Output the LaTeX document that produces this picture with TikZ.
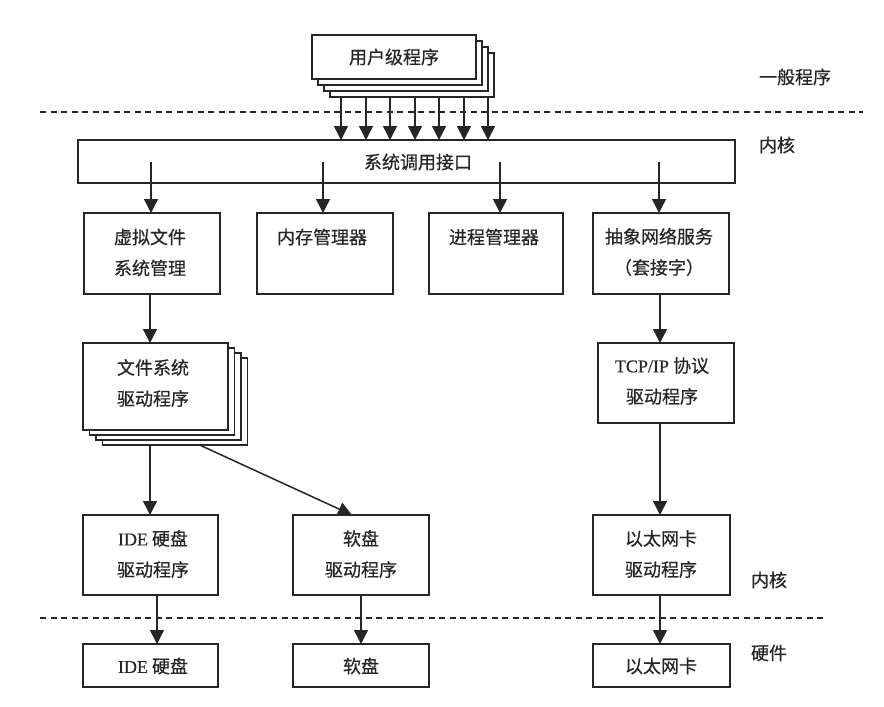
\documentclass[tikz,border=0pt]{standalone}
\usepackage{fontspec}
\newfontfamily\cjk[FakeBold=0.5]{Noto Sans CJK SC}
\setmainfont[FakeBold=0.5]{Liberation Serif}
\usetikzlibrary{arrows.meta,calc}
\tikzset{
  box/.style={draw=black!85, line width=1.4pt, fill=white, inner sep=0pt, outer sep=0pt},
  txt/.style={font=\cjk\fontsize{18}{31}\selectfont, align=center, inner sep=0pt, text=black!85},
  arr/.style={draw=black!85, line width=1.5pt, -{Triangle[width=14pt,length=14pt]}},
  sep/.style={draw=black!85, line width=1.1pt, dash pattern=on 6pt off 4.5pt},
}
\begin{document}
\begin{tikzpicture}[x=1pt,y=-1pt]
\useasboundingbox (0,0) rectangle (884,707);
% user programs stack
\foreach \k in {3,2,1,0}{
  \node[box, minimum width=164pt, minimum height=44pt] (u\k) at (394+6*\k, 57+6*\k) {};
}
\node[txt] (ut) at (u0.center) {用户级程序};
% separators
\draw[sep] (40,112) -- (863,112);
\draw[sep] (40,618) -- (827,618);
% side labels
\node[txt] (lg) at (795,77) {一般程序};
\node[txt] (lk1) at (777,145) {内核};
\node[txt] (lk2) at (769,580) {内核};
\node[txt] (lh) at (769,653) {硬件};
% system call interface
\node[box, minimum width=657pt, minimum height=43pt] (sys) at (406.5,161.5) {};
\node[txt] (syst) at (418,162) {系统调用接口};
\foreach \d in {11,36,60,85,109,134,158}{
  \draw[arr] ($(u3.south west)+(\d,0)$) coordinate (s\d) -- (s\d |- sys.north);
}
% second row
\node[box, minimum width=136pt, minimum height=81pt] (vfs) at (152,253.5) {};
\node[txt] (vfst) at (150,252.5) {虚拟文件\\系统管理};
\node[box, minimum width=136pt, minimum height=81pt] (mem) at (325,253.5) {};
\node[txt] (memt) at (322,237) {内存管理器};
\node[box, minimum width=134pt, minimum height=81pt] (proc) at (496,253.5) {};
\node[txt] (proct) at (494,237) {进程管理器};
\node[box, minimum width=136pt, minimum height=81pt] (net) at (661,253.5) {};
\node[txt] (nett) at (659,252) {抽象网络服务\\（套接字）};
\draw[arr] ($(vfs.north |- sys.center)+(-1,0)$) coordinate (a1) -- (a1 |- vfs.north);
\draw[arr] ($(mem.north |- sys.center)+(-2,0)$) coordinate (a2) -- (a2 |- mem.north);
\draw[arr] ($(proc.north |- sys.center)+(4,0)$) coordinate (a3) -- (a3 |- proc.north);
\draw[arr] ($(net.north |- sys.center)+(-2,0)$) coordinate (a4) -- (a4 |- net.north);
% file system driver stack
\foreach \k in {3,2,1,0}{
  \node[box, minimum width=145pt, minimum height=87pt] (fs\k) at (155.5+6.5*\k, 386.5+5*\k) {};
}
\node[txt] (fst) at (153,383) {文件系统\\驱动程序};
\draw[arr] ($(vfs.south)+(-2,0)$) coordinate (b1) -- (b1 |- fs0.north);
% tcp/ip
\node[box, minimum width=136pt, minimum height=80pt] (tcp) at (666,383) {};
\node[txt] (tcpt) at (662,381) {{\rmfamily TCP/IP} 协议\\驱动程序};
\draw[arr] ($(net.south)+(-1,0)$) coordinate (b2) -- (b2 |- tcp.north);
% drivers row
\node[box, minimum width=135pt, minimum height=80pt] (ided) at (150.5,555) {};
\node[txt] (idedt) at (153,554) {{\rmfamily IDE} 硬盘\\驱动程序};
\node[box, minimum width=136pt, minimum height=80pt] (flopd) at (361,555) {};
\node[txt] (flopdt) at (361,554) {软盘\\驱动程序};
\node[box, minimum width=137pt, minimum height=80pt] (ethd) at (661.5,555) {};
\node[txt] (ethdt) at (661,554) {以太网卡\\驱动程序};
\draw[arr] ($(ided.north |- fs3.south)+(-0.5,0)$) coordinate (b0) -- (b0 |- ided.north);
\draw[arr] ($(fs3.south west)!0.67!(fs3.south east)$) -- ($(flopd.north)+(-9,0)$);
\draw[arr] ($(ethd.north |- tcp.south)+(-1.5,0)$) coordinate (b3) -- (b3 |- ethd.north);
% hardware row
\node[box, minimum width=135pt, minimum height=43pt] (ide) at (150.5,665.5) {};
\node[txt] (idet) at (153,666) {{\rmfamily IDE} 硬盘};
\node[box, minimum width=136pt, minimum height=43pt] (flop) at (361,665.5) {};
\node[txt] (flopt) at (361,666) {软盘};
\node[box, minimum width=137pt, minimum height=43pt] (eth) at (661.5,665.5) {};
\node[txt] (etht) at (661,666) {以太网卡};
\draw[arr] ($(ided.south)+(6.5,0)$) coordinate (c1) -- (c1 |- ide.north);
\draw[arr] (flopd.south) -- (flop.north);
\draw[arr] ($(ethd.south)+(-1.5,0)$) coordinate (c3) -- (c3 |- eth.north);
\end{tikzpicture}
\end{document}
